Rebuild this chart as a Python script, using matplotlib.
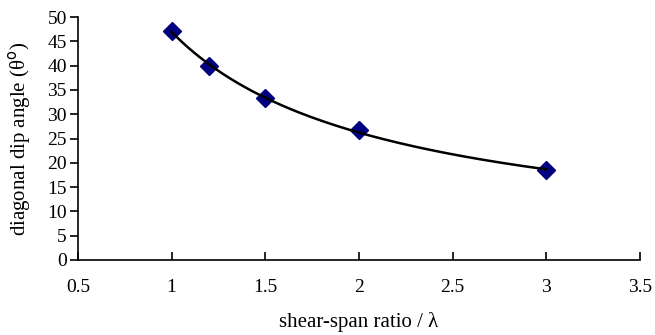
import matplotlib.pyplot as plt
import numpy as np

# shear-span ratio vs diagonal dip angle
ratio = [1.0, 1.2, 1.5, 2.0, 3.0]
angle = [47.1, 39.9, 33.3, 26.7, 18.5]

plt.rcParams['font.family'] = ['Liberation Serif', 'DejaVu Serif']

fig = plt.figure(figsize=(6.55, 3.35), dpi=100)
ax = fig.add_axes([0.119, 0.224, 0.858, 0.725])

# power trendline y = a*x^b fitted to the points
b, loga = np.polyfit(np.log(ratio), np.log(angle), 1)
xs = np.linspace(min(ratio), max(ratio), 200)
ax.plot(ratio, angle, 'D', color='#000080', markersize=9, zorder=2)
ax.plot(xs, np.exp(loga) * xs ** b, color='black', lw=1.8, zorder=3)

ax.set_xlim(0.5, 3.5)
ax.set_ylim(0, 50)
ax.set_xticks(np.arange(0.5, 3.51, 0.5))
ax.set_xticklabels(['0.5', '1', '1.5', '2', '2.5', '3', '3.5'])
ax.set_yticks(range(0, 51, 5))
for s in ['top', 'right']:
    ax.spines[s].set_visible(False)
for s in ['left', 'bottom']:
    ax.spines[s].set_linewidth(1.2)
ax.tick_params(axis='x', direction='in', length=6, width=1.2, labelsize=14, pad=14)
ax.tick_params(axis='y', direction='out', length=6, width=1.2, labelsize=14, pad=2)
ax.set_xlabel('shear-span ratio / λ', fontsize=15, labelpad=11)
ax.set_ylabel('diagonal dip angle (θ$^{\\rm o}$)', fontsize=15, labelpad=10)

fig.savefig('out.png', dpi=100)
